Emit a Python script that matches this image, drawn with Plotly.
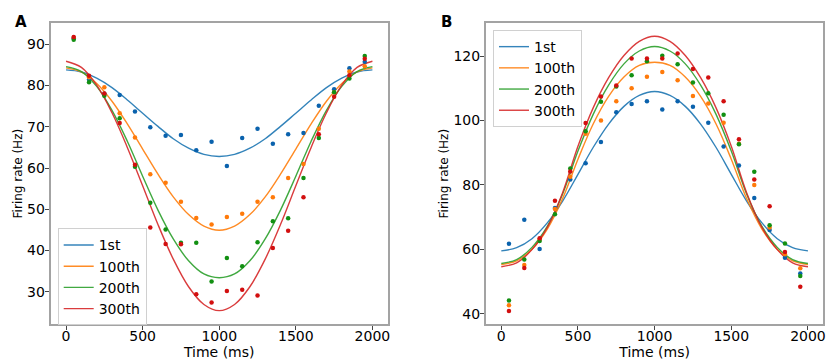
import plotly.graph_objects as go

# ---------------- data ----------------
series_names = ["1st", "100th", "200th", "300th"]
time_points = [50, 150, 250, 350, 450, 550, 650, 750, 850, 950,
               1050, 1150, 1250, 1350, 1450, 1550, 1650, 1750, 1850, 1950]
curve_time = [0, 100, 200, 300, 400, 500, 600, 700, 800, 900, 1000,
              1100, 1200, 1300, 1400, 1500, 1600, 1700, 1800, 1900, 2000]

# Panel A measured rates
A_1st = [91.5, 81.5, 78.0, 77.7, 73.7, 69.9, 67.8, 68.0, 64.3, 66.4,
         60.5, 67.3, 69.5, 65.9, 68.2, 68.5, 75.1, 79.1, 84.2, 85.8]
A_100th = [91.6, 82.0, 79.6, 73.3, 67.4, 58.5, 56.4, 51.8, 47.9, 46.3,
           48.1, 48.9, 51.8, 52.9, 57.6, 61.0, 69.5, 78.4, 83.4, 84.7]
A_200th = [91.1, 80.8, 77.5, 72.1, 60.3, 51.6, 45.1, 41.9, 41.9, 32.5,
           38.2, 36.2, 42.0, 47.1, 47.8, 57.6, 67.3, 78.4, 81.7, 87.2]
A_300th = [91.8, 82.4, 78.1, 70.9, 60.8, 45.6, 41.6, 41.5, 29.4, 27.4,
           30.2, 30.5, 29.1, 40.6, 44.8, 52.9, 68.2, 77.3, 82.5, 86.5]

# Panel A fitted curves (sampled every 100 ms)
A_fit_1st = [83.8, 83.3, 81.8, 79.5, 76.5, 73.3, 70.1, 67.1, 64.8, 63.3, 62.8,
             63.3, 64.8, 67.1, 70.1, 73.3, 76.5, 79.5, 81.8, 83.3, 83.8]
A_fit_100th = [84.3, 83.3, 80.5, 76.2, 70.7, 64.6, 58.5, 53.0, 48.7, 45.9, 44.9,
               45.9, 48.7, 53.0, 58.5, 64.6, 70.7, 76.2, 80.5, 83.3, 84.3]
A_fit_200th = [84.6, 83.4, 79.8, 74.0, 66.5, 58.0, 49.8, 42.8, 37.5, 34.3, 33.4,
               34.3, 37.5, 42.8, 49.8, 58.0, 66.5, 74.0, 79.8, 83.4, 84.6]
A_fit_300th = [85.9, 84.4, 80.1, 73.4, 65.0, 55.7, 46.3, 37.9, 31.2, 26.9, 25.4,
               26.9, 31.2, 37.9, 46.3, 55.7, 65.0, 73.4, 80.1, 84.4, 85.9]

# Panel B measured rates
B_1st = [61.7, 69.2, 60.1, 72.8, 81.7, 86.7, 93.3, 102.6, 105.1, 106.0,
         103.4, 106.0, 104.3, 99.3, 91.9, 86.0, 75.9, 66.0, 57.4, 52.5]
B_100th = [42.6, 55.1, 63.0, 72.5, 82.5, 95.9, 100.0, 106.0, 110.0, 113.6,
           115.1, 112.5, 107.6, 105.3, 99.3, 92.8, 80.0, 66.8, 58.5, 54.1]
B_200th = [44.1, 56.8, 62.6, 70.9, 85.1, 96.7, 105.8, 110.6, 114.1, 118.4,
           120.1, 117.5, 111.8, 108.5, 101.8, 92.6, 84.1, 67.5, 61.8, 51.7]
B_300th = [40.8, 54.2, 63.4, 75.1, 84.2, 99.2, 107.5, 110.9, 119.3, 119.3,
           119.3, 120.8, 116.0, 113.4, 106.0, 94.2, 81.7, 73.4, 59.2, 48.4]

# Panel B fitted curves (sampled every 100 ms)
B_fit_1st = [59.5, 60.5, 63.3, 68.2, 75.0, 83.3, 91.7, 98.9, 104.4, 107.8, 109.0,
             107.8, 104.4, 98.9, 91.7, 83.3, 75.0, 68.2, 63.3, 60.5, 59.5]
B_fit_100th = [55.3, 56.4, 60.0, 66.3, 75.8, 88.0, 99.0, 107.5, 113.5, 117.1, 118.1,
               117.1, 113.5, 107.5, 99.0, 88.0, 75.8, 66.3, 60.0, 56.4, 55.3]
B_fit_200th = [55.6, 56.8, 60.6, 67.1, 77.2, 90.5, 102.0, 111.0, 117.6, 121.6, 123.0,
               121.6, 117.6, 111.0, 102.0, 90.5, 77.2, 67.1, 60.6, 56.8, 55.6]
B_fit_300th = [54.6, 55.8, 59.9, 66.8, 77.6, 92.0, 104.0, 113.3, 120.2, 124.6, 126.2,
               124.6, 120.2, 113.3, 104.0, 92.0, 77.6, 66.8, 59.9, 55.8, 54.6]

x_ticks = [0, 500, 1000, 1500, 2000]
A_y_ticks = [30, 40, 50, 60, 70, 80, 90]
B_y_ticks = [40, 60, 80, 100, 120]

# ---------------- styles ----------------
line_colors = ["#1f77b4", "#ff7f0e", "#2ca02c", "#d62728"]
dot_colors = ["#0a62ad", "#ff7a0a", "#129012", "#d20f0f"]
FONT = "DejaVu Sans"

fig = go.Figure()

panels = [
    ("x", "y", "legend", [A_1st, A_100th, A_200th, A_300th],
     [A_fit_1st, A_fit_100th, A_fit_200th, A_fit_300th]),
    ("x2", "y2", "legend2", [B_1st, B_100th, B_200th, B_300th],
     [B_fit_1st, B_fit_100th, B_fit_200th, B_fit_300th]),
]

for xa, ya, leg, pts, fits in panels:
    for i, name in enumerate(series_names):
        fig.add_trace(go.Scatter(
            x=curve_time, y=fits[i], mode="lines", name=name,
            line=dict(color=line_colors[i], width=1.4, shape="spline"),
            opacity=0.9, xaxis=xa, yaxis=ya, legend=leg, showlegend=True,
            hoverinfo="skip"))
    for i, name in enumerate(series_names):
        fig.add_trace(go.Scatter(
            x=time_points, y=pts[i], mode="markers", name=name,
            marker=dict(color=dot_colors[i], size=4.5, line=dict(width=0)),
            xaxis=xa, yaxis=ya, showlegend=False))

axis_common = dict(
    showline=True, mirror=True, linecolor="#a3a3a3", linewidth=2,
    ticks="outside", ticklen=4, tickwidth=1, tickcolor="#444",
    showgrid=False, zeroline=False, automargin=False,
    tickfont=dict(family=FONT, size=14, color="black"),
)

ydom = [0.105, 0.9356]
fig.update_layout(
    width=829, height=362,
    margin=dict(l=0, r=0, t=0, b=0),
    paper_bgcolor="white", plot_bgcolor="white",
    font=dict(family=FONT, size=14, color="black"),
    xaxis=dict(domain=[0.0612, 0.4677], range=[-100, 2100], tickvals=x_ticks,
               ticklabelstandoff=-6,
               title=dict(text="Time (ms)", standoff=0,
                          font=dict(family=FONT, size=14)),
               anchor="y", **axis_common),
    yaxis=dict(domain=ydom, range=[22.17, 95.1], tickvals=A_y_ticks,
               ticklabelstandoff=-3,
               title=dict(text="Firing rate (Hz)", standoff=2,
                          font=dict(family=FONT, size=12)),
               anchor="x", **axis_common),
    xaxis2=dict(domain=[0.5862, 0.9931], range=[-100, 2100], tickvals=x_ticks,
                ticklabelstandoff=-6,
                title=dict(text="Time (ms)", standoff=0,
                           font=dict(family=FONT, size=14)),
                anchor="y2", **axis_common),
    yaxis2=dict(domain=ydom, range=[36.8, 130.2], tickvals=B_y_ticks,
                ticklabelstandoff=-3,
                title=dict(text="Firing rate (Hz)", standoff=2,
                           font=dict(family=FONT, size=12)),
                anchor="x2", **axis_common),
    legend=dict(x=0.0696, y=0.369, xanchor="left", yanchor="top",
                bgcolor="white", bordercolor="#d0d0d0", borderwidth=1,
                font=dict(family=FONT, size=14), itemwidth=30),
    legend2=dict(x=0.5947, y=0.917, xanchor="left", yanchor="top",
                 bgcolor="white", bordercolor="#d0d0d0", borderwidth=1,
                 font=dict(family=FONT, size=14), itemwidth=30),
    annotations=[
        dict(text="<b>A</b>", x=12.5 / 829, y=(362 - 11.3) / 362,
             xref="paper", yref="paper", showarrow=False,
             font=dict(family=FONT, size=15, color="black")),
        dict(text="<b>B</b>", x=446 / 829, y=(362 - 11.3) / 362,
             xref="paper", yref="paper", showarrow=False,
             font=dict(family=FONT, size=15, color="black")),
    ],
)

fig.write_html(
    "out.html",
    config={"displayModeBar": False},
    post_script="document.body.style.margin='0';"
                "document.body.style.overflow='hidden';",
)
